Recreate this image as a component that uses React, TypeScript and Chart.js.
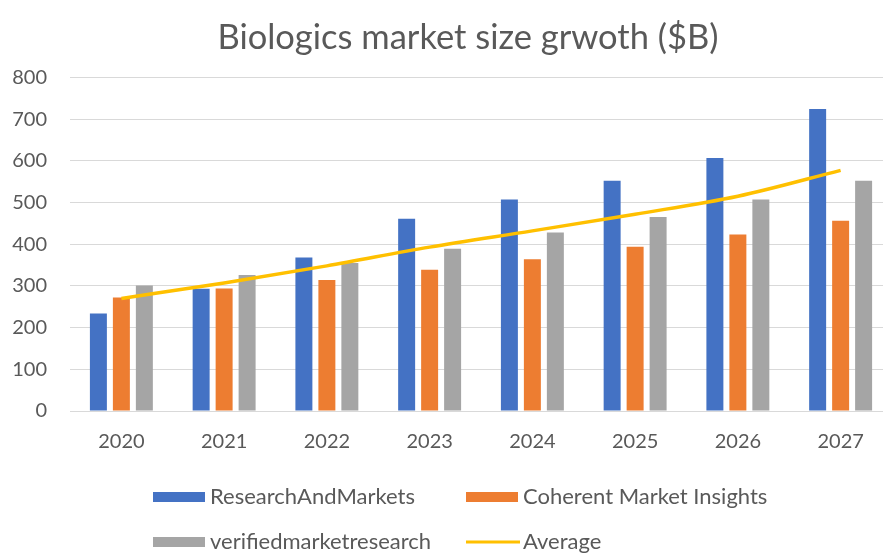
import React, { useEffect, useRef } from "react";
import { Chart, registerables } from "chart.js";

Chart.register(...registerables);

const years = ["2020", "2021", "2022", "2023", "2024", "2025", "2026", "2027"];
const researchAndMarkets = [234, 293, 368, 461, 507, 552, 607, 724];
const coherentMarketInsights = [272, 294, 314, 339, 364, 394, 423, 456];
const verifiedMarketResearch = [301, 326, 355, 389, 428, 465, 507, 552];
const averageValues = [270, 307, 348, 393, 432, 472, 515, 577];
const seriesNames = ["ResearchAndMarkets", "Coherent Market Insights", "verifiedmarketresearch", "Average"];
const yTicks = [0, 100, 200, 300, 400, 500, 600, 700, 800];

const FONT = "Lato, 'Open Sans', sans-serif";
const TEXT = "#595959";

const gridLegend = {
  id: "gridLegend",
  afterDraw(chart: any) {
    const ctx = chart.ctx;
    const cols = [153, 466];
    const rows = [497, 542];
    chart.data.datasets.forEach((ds: any, i: number) => {
      const x = cols[i % 2];
      const y = rows[Math.floor(i / 2)];
      ctx.save();
      if (ds.type === "line") {
        ctx.strokeStyle = ds.borderColor;
        ctx.lineWidth = 3;
        ctx.beginPath();
        ctx.moveTo(x, y);
        ctx.lineTo(x + 54, y);
        ctx.stroke();
      } else {
        ctx.fillStyle = ds.backgroundColor;
        ctx.fillRect(x, y - 5, 52, 10);
      }
      ctx.fillStyle = TEXT;
      ctx.font = `22px ${FONT}`;
      ctx.textBaseline = "middle";
      ctx.textAlign = "left";
      ctx.fillText(ds.label, x + 57, y);
      ctx.restore();
    });
  },
};

export default function App() {
  const ref = useRef<HTMLCanvasElement | null>(null);
  useEffect(() => {
    if (!ref.current) return;
    const chart = new Chart(ref.current, {
      type: "bar",
      data: {
        labels: years,
        datasets: [
          {
            type: "bar",
            label: seriesNames[0],
            data: researchAndMarkets,
            backgroundColor: "#4472C4",
            order: 1,
            categoryPercentage: 0.671,
            barPercentage: 0.739,
          },
          {
            type: "bar",
            label: seriesNames[1],
            data: coherentMarketInsights,
            backgroundColor: "#ED7D31",
            order: 1,
            categoryPercentage: 0.671,
            barPercentage: 0.739,
          },
          {
            type: "bar",
            label: seriesNames[2],
            data: verifiedMarketResearch,
            backgroundColor: "#A5A5A5",
            order: 1,
            categoryPercentage: 0.671,
            barPercentage: 0.739,
          },
          {
            type: "line",
            label: seriesNames[3],
            data: averageValues,
            borderColor: "#FFC000",
            backgroundColor: "#FFC000",
            borderWidth: 3.5,
            pointRadius: 0,
            tension: 0.4,
            cubicInterpolationMode: "monotone",
            order: 0,
          } as any,
        ],
      },
      options: {
        animation: false,
        responsive: false,
        layout: { padding: { top: 0, right: 0, bottom: 92, left: 0 } },
        plugins: {
          legend: { display: false },
          tooltip: { enabled: false },
          title: {
            display: true,
            text: "Biologics market size grwoth ($B)",
            color: TEXT,
            font: { family: FONT, size: 34.5, weight: "normal" },
            padding: { top: 17, bottom: 19 },
          },
        },
        scales: {
          x: {
            grid: { display: false, drawTicks: false },
            border: { display: true, color: "#d9d9d9", width: 1 },
            ticks: { color: TEXT, font: { family: FONT, size: 20 }, padding: 19 },
            afterFit: (s: any) => {
              s.height = 50;
            },
          },
          y: {
            min: 0,
            max: 800,
            afterBuildTicks: (s: any) => {
              s.ticks = yTicks.map((v) => ({ value: v }));
            },
            grid: { color: "#d9d9d9", lineWidth: 1, drawTicks: false },
            border: { display: false },
            ticks: { color: TEXT, font: { family: FONT, size: 20 }, padding: 23 },
            afterFit: (s: any) => {
              s.width = 70;
            },
          },
          yRight: {
            position: "right",
            display: true,
            grid: { display: false, drawTicks: false },
            border: { display: false },
            ticks: { display: false },
            afterFit: (s: any) => {
              s.width = 44;
            },
          },
        },
      } as any,
      plugins: [gridLegend],
    });
    return () => chart.destroy();
  }, []);

  return (
    <div style={{ position: "absolute", left: 0, top: 0, width: 883, height: 553, overflow: "hidden", background: "#fff" }}>
      <canvas ref={ref} width={936} height={553} style={{ width: 936, height: 553, display: "block" }} />
    </div>
  );
}
